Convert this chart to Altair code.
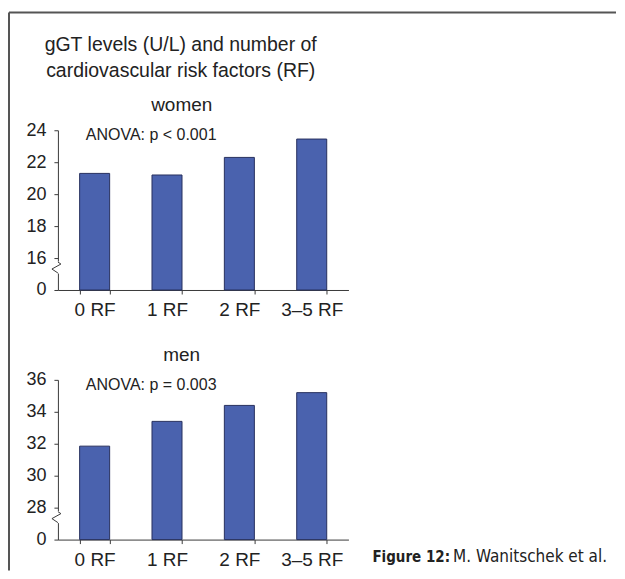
import altair as alt
import pandas as pd

categories = ["0 RF", "1 RF", "2 RF", "3–5 RF"]
women_values = [21.3, 21.2, 22.3, 23.45]
men_values = [31.85, 33.4, 34.4, 35.2]
women_ticks = [0, 16, 18, 20, 22, 24]
men_ticks = [0, 28, 30, 32, 34, 36]
panel_titles = ["women", "men"]
anova_texts = ["ANOVA: p < 0.001", "ANOVA: p = 0.003"]
title_lines = ["gGT levels (U/L) and number of", "cardiovascular risk factors (RF)"]
caption_bold = "Figure 12:"
caption_rest = "M. Wanitschek et al."

FONT = "Liberation Sans"
NARROW = "DejaVu Sans Condensed, Liberation Sans"
BAR_FILL = "#4a62ae"
BAR_STROKE = "#27305e"
AXIS_COLOR = "#3a3a3a"
TEXT_COLOR = "#222222"
FRAME_COLOR = "#555555"
W, H = 291, 160


def text_layer(txt, x, y, size, align="center", weight="normal", font=FONT):
    return alt.Chart(pd.DataFrame({"t": [txt]})).mark_text(
        align=align, baseline="middle", fontSize=size, font=font,
        fontWeight=weight, color=TEXT_COLOR
    ).encode(text="t:N", x=alt.value(x), y=alt.value(y))


def seg(x1, y1, x2, y2, color=AXIS_COLOR, width=1.0):
    return alt.Chart(pd.DataFrame({"k": [0]})).mark_rule(
        color=color, strokeWidth=width
    ).encode(x=alt.value(x1), x2=alt.value(x2), y=alt.value(y1), y2=alt.value(y2))


def panel(values, ticks, title, anova, extra_layers):
    brk = ticks[1]
    offset = brk - 2
    scaled_ticks = [0] + [t - offset for t in ticks[1:]]
    df = pd.DataFrame({"cat": categories, "value": values})
    bars = alt.Chart(df).transform_calculate(
        plotted=f"datum.value - {offset}"
    ).mark_bar(fill=BAR_FILL, stroke=BAR_STROKE, strokeWidth=1).encode(
        x=alt.X("cat:N", sort=categories,
                scale=alt.Scale(paddingInner=0.585, paddingOuter=0.3),
                axis=alt.Axis(title=None, labelAngle=0, tickBand="extent",
                              tickSize=4, labelPadding=7, labelFontSize=19)),
        y=alt.Y("plotted:Q", scale=alt.Scale(domain=[0, 10], nice=False, zero=True),
                axis=alt.Axis(title=None, values=scaled_ticks, grid=False,
                              labelExpr=f"datum.value == 0 ? '0' : format(datum.value + {offset}, 'd')",
                              tickSize=4, labelPadding=8, labelFontSize=18)),
    )
    layers = [
        bars,
        # axis break
        seg(0, 131.5, 0, 143.5, color="white", width=3),
        seg(0, 132, 3, 134),
        seg(3, 134, -6, 139),
        seg(-6, 139, 0, 143),
        text_layer(title, 124, -25, 19),
        text_layer(anova, 28, 5, 16, align="left"),
    ] + extra_layers
    return alt.layer(*layers).properties(width=W, height=H)


top_extra = [
    seg(-49, -118, -49, 441, color=FRAME_COLOR, width=2),
    seg(-49, -118, 559, -118, color=FRAME_COLOR, width=2),
    text_layer(title_lines[0], 123, -85, 19.5),
    text_layer(title_lines[1], 123, -59, 19.5),
]
bottom_extra = [
    text_layer(caption_bold, 315, 177, 15, align="left", weight="bold", font=NARROW),
    text_layer(caption_rest, 550, 177, 17, align="right", font=NARROW),
]

top = panel(women_values, women_ticks, panel_titles[0], anova_texts[0], top_extra)
bottom = panel(men_values, men_ticks, panel_titles[1], anova_texts[1], bottom_extra)

chart = alt.vconcat(top, bottom, spacing=90, bounds="flush").properties(
    padding={"left": 0, "top": 3, "right": 0, "bottom": 0}
).configure_view(stroke=None).configure_axis(
    domainColor=AXIS_COLOR, tickColor=AXIS_COLOR, labelFont=FONT,
    labelColor=TEXT_COLOR, domainWidth=1, tickWidth=1
)

chart.save("out.html", embed_options={"renderer": "svg", "actions": False})
